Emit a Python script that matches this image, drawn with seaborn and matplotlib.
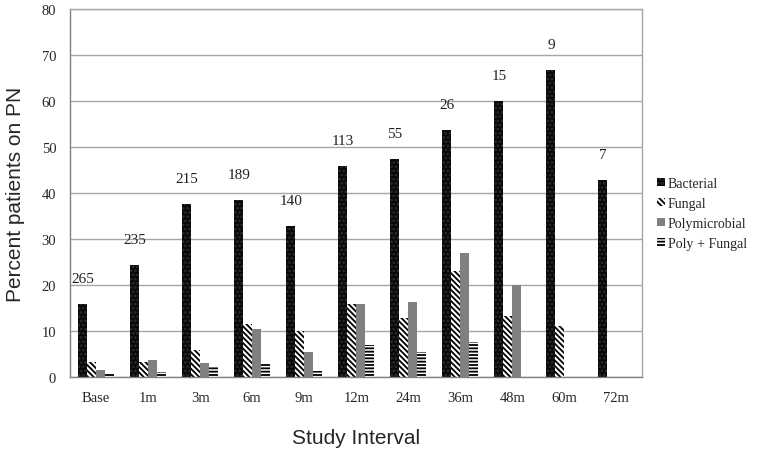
import numpy as np
import pandas as pd
import matplotlib
matplotlib.use("Agg")
import matplotlib.pyplot as plt
from matplotlib.patches import Patch
import seaborn as sns

# Values
intervals = ["Base", "1m", "3m", "6m", "9m", "12m", "24m", "36m", "48m", "60m", "72m"]
bacterial = [16.0, 24.5, 37.7, 38.5, 32.8, 46.0, 47.4, 53.8, 60.0, 66.7, 42.9]
fungal = [3.4, 3.3, 6.0, 11.6, 10.0, 15.9, 12.8, 23.1, 13.3, 11.1, 0.0]
polymicrobial = [1.5, 3.8, 3.2, 10.6, 5.6, 15.9, 16.4, 26.9, 20.0, 0.0, 0.0]
poly_fungal = [0.8, 1.2, 2.5, 3.2, 1.4, 7.1, 5.5, 7.7, 0.0, 0.0, 0.0]
n_patients = [265, 235, 215, 189, 140, 113, 55, 26, 15, 9, 7]
series = ["Bacterial", "Fungal", "Polymicrobial", "Poly + Fungal"]

df = pd.DataFrame({
    "interval": intervals * 4,
    "type": np.repeat(series, len(intervals)),
    "pct": bacterial + fungal + polymicrobial + poly_fungal,
})

sns.set_style("white")
plt.rcParams["font.family"] = ["Liberation Serif", "DejaVu Serif"]
plt.rcParams["hatch.linewidth"] = 1.3

fig = plt.figure(figsize=(7.62, 4.52), dpi=100)
ax = fig.add_axes([0.092, 0.163, 0.751, 0.815])

faces = ["#080808", "white", "#808080", "white"]
hatch_cols = ["#2e2e2e", "black", "#808080", "black"]
hatches = ["....", "\\" * 6, "", "-----"]

sns.barplot(data=df, x="interval", y="pct", hue="type", order=intervals,
            hue_order=series, width=0.69, ax=ax, legend=False,
            palette=faces, saturation=1)

for cont, fc, hc, h in zip(ax.containers, faces, hatch_cols, hatches):
    for bar in cont:
        bar.set_facecolor(fc)
        bar.set_edgecolor(hc)
        bar.set_hatch(h)
        bar.set_linewidth(0)

# patient counts above the bacterial bars
for bar, n, v in zip(ax.containers[0], n_patients, bacterial):
    ax.text(bar.get_x() + bar.get_width() / 2, v + 5.5, str(n),
            ha="center", va="center", fontsize=11, color="#222222")

ax.set_xlim(-0.5, len(intervals) - 0.5)
ax.set_ylim(0, 80)
ax.set_yticks(range(0, 81, 10))
ax.yaxis.grid(True, color="#a6a6a6", linewidth=1)
ax.set_axisbelow(True)

for s in ax.spines.values():
    s.set_color("#a6a6a6")
    s.set_linewidth(1)
ax.spines["left"].set_color("#808080")
ax.spines["bottom"].set_color("#808080")

ax.set_xticks(np.arange(len(intervals)))
ax.set_xticklabels(intervals)
ax.set_xticks(np.arange(-0.5, len(intervals)), minor=True)
ax.tick_params(axis="x", which="major", length=0, pad=10, labelsize=10.5)
ax.tick_params(axis="x", which="minor", length=4, color="#808080", direction="out")
ax.tick_params(axis="y", length=4, color="#808080", direction="out", labelsize=10.5, pad=6)

ax.set_xlabel("Study Interval", family="Liberation Sans", fontsize=15, labelpad=17)
ax.set_ylabel("Percent patients on PN", family="Liberation Sans", fontsize=15, labelpad=12)

handles = [Patch(facecolor=fc, edgecolor=hc, hatch=h, linewidth=0)
           for fc, hc, h in zip(faces, hatch_cols, hatches)]
ax.legend(handles, series, loc="center left", bbox_to_anchor=(1.015, 0.445),
          frameon=False, fontsize=10, handlelength=0.6, handleheight=0.6,
          handletextpad=0.2, labelspacing=0.5, borderaxespad=0)

fig.savefig("out.png", dpi=100)
